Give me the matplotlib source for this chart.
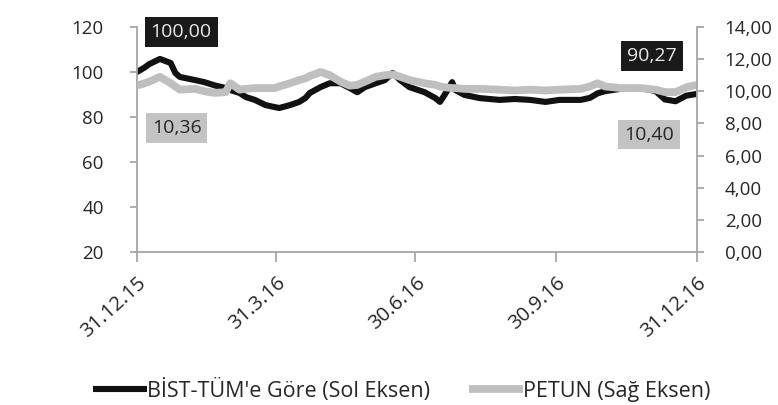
import numpy as np
import pandas as pd
import matplotlib
matplotlib.use('Agg')
import matplotlib.pyplot as plt
import matplotlib.ticker as tick

plt.rcParams['font.family'] = ['Open Sans', 'DejaVu Sans']

# values (roughly weekly)
dates = ['2015-12-31', '2016-01-05', '2016-01-08', '2016-01-15', '2016-01-22',
         '2016-01-25', '2016-01-28', '2016-02-07', '2016-02-13', '2016-02-20',
         '2016-02-27', '2016-03-01', '2016-03-07', '2016-03-11', '2016-03-17',
         '2016-03-24', '2016-03-30', '2016-04-02', '2016-04-09', '2016-04-15',
         '2016-04-19', '2016-04-22', '2016-04-29', '2016-05-05', '2016-05-12',
         '2016-05-18', '2016-05-23', '2016-05-28', '2016-06-04', '2016-06-10',
         '2016-06-15', '2016-06-20', '2016-06-26', '2016-07-06', '2016-07-13',
         '2016-07-16', '2016-07-19', '2016-07-24', '2016-07-26', '2016-08-01',
         '2016-08-11', '2016-08-24', '2016-09-03', '2016-09-13', '2016-09-23',
         '2016-10-02', '2016-10-16', '2016-10-22', '2016-10-27', '2016-11-01',
         '2016-11-11', '2016-11-24', '2016-12-04', '2016-12-10', '2016-12-17',
         '2016-12-24', '2016-12-31']
bist = [100.0, 102.0, 103.5, 105.8, 104.0, 99.6, 97.8, 96.4, 95.5, 94.0,
        92.9, 92.0, 90.7, 88.9, 87.6, 85.3, 84.4, 84.0, 85.3, 86.7,
        88.4, 90.7, 93.3, 95.0, 95.0, 92.9, 91.0, 93.3, 95.0, 96.4,
        99.6, 96.4, 93.3, 91.0, 88.4, 86.7, 89.8, 95.5, 92.0, 89.8,
        88.4, 87.6, 88.0, 87.6, 86.7, 87.6, 87.6, 88.5, 90.5, 91.5,
        92.5, 92.9, 91.5, 87.8, 87.0, 89.5, 90.27]
petun = [10.36, 10.5, 10.6, 10.9, 10.5, 10.3, 10.1, 10.15, 10.0, 9.9,
         9.95, 10.5, 10.1, 10.15, 10.2, 10.2, 10.2, 10.3, 10.5, 10.7,
         10.8, 10.95, 11.2, 11.0, 10.6, 10.35, 10.4, 10.6, 10.9, 11.0,
         11.05, 10.9, 10.7, 10.5, 10.4, 10.3, 10.25, 10.2, 10.2, 10.15,
         10.15, 10.1, 10.05, 10.1, 10.05, 10.1, 10.15, 10.3, 10.5, 10.3,
         10.2, 10.2, 10.1, 9.95, 9.95, 10.25, 10.40]
xticks = ['2015-12-31', '2016-03-31', '2016-06-30', '2016-09-30', '2016-12-31']
xticklabels = ['31.12.15', '31.3.16', '30.6.16', '30.9.16', '31.12.16']

dates = pd.to_datetime(dates)
spine_c = '#a6a6a6'
text_c = '#262626'

fig = plt.figure(figsize=(7.78, 4.05), dpi=100, facecolor='w')
ax = fig.add_axes([137/778, 1-252/405, 560/778, 225/405])
ax2 = ax.twinx()

l1, = ax.plot(dates, bist, color='#111111', lw=4.4, solid_capstyle='round',
              solid_joinstyle='round', label="BİST-TÜM'e Göre (Sol Eksen)")
l2, = ax2.plot(dates, petun, color='#bfbfbf', lw=5.6, solid_capstyle='round',
               solid_joinstyle='round', label='PETUN (Sağ Eksen)')

ax.set_ylim(20, 120)
ax.set_yticks(np.arange(20, 121, 20))
ax2.set_ylim(0, 14)
ax2.set_yticks(np.arange(0, 14.1, 2))
ax2.yaxis.set_major_formatter(tick.FuncFormatter(lambda v, p: ('%.2f' % v).replace('.', ',')))

ax.set_xlim(pd.Timestamp('2015-12-31'), pd.Timestamp('2016-12-31'))
ax.set_xticks(pd.to_datetime(xticks))
ax.set_xticklabels(xticklabels, rotation=42, ha='right', rotation_mode='anchor')

for a in (ax, ax2):
	for s in a.spines.values():
		s.set_color(spine_c)
		s.set_linewidth(1.3)
	a.spines['top'].set_visible(False)
ax.spines['right'].set_visible(False)
ax2.spines['left'].set_visible(False)
ax2.spines['bottom'].set_visible(False)

ax.tick_params(axis='y', direction='out', length=5, color=spine_c, width=1.3,
               labelsize=13.5, labelcolor=text_c, pad=19)
ax.tick_params(axis='x', direction='out', length=7, color=spine_c, width=1.3,
               labelsize=14.5, labelcolor=text_c, pad=8)
ax2.tick_params(axis='y', direction='out', length=5, color=spine_c, width=1.3,
                labelsize=13.5, labelcolor=text_c, pad=15)

# value boxes
ax.text(0.079, 0.978, '100,00', transform=ax.transAxes, ha='center', va='center',
        fontsize=14, color='#e8e8e8',
        bbox=dict(boxstyle='square,pad=0.3', fc='#1a1a1a', ec='none'))
ax.text(0.071, 0.551, '10,36', transform=ax.transAxes, ha='center', va='center',
        fontsize=14, color=text_c,
        bbox=dict(boxstyle='square,pad=0.3', fc='#c3c3c3', ec='none'))
ax.text(0.920, 0.871, '90,27', transform=ax.transAxes, ha='center', va='center',
        fontsize=14, color='#e8e8e8',
        bbox=dict(boxstyle='square,pad=0.3', fc='#1a1a1a', ec='none'))
ax.text(0.914, 0.522, '10,40', transform=ax.transAxes, ha='center', va='center',
        fontsize=14, color=text_c,
        bbox=dict(boxstyle='square,pad=0.3', fc='#c3c3c3', ec='none'))

leg = fig.legend(handles=[l1, l2], loc='center left', bbox_to_anchor=(74/778, 1-390/405),
                 ncol=2, frameon=False, fontsize=15.5, handlelength=2.5,
                 handletextpad=0.0, columnspacing=1.8)
for t in leg.get_texts():
	t.set_color(text_c)
for h in leg.get_lines():
	h.set_solid_capstyle('butt')

plt.savefig('out.png', dpi=100)
